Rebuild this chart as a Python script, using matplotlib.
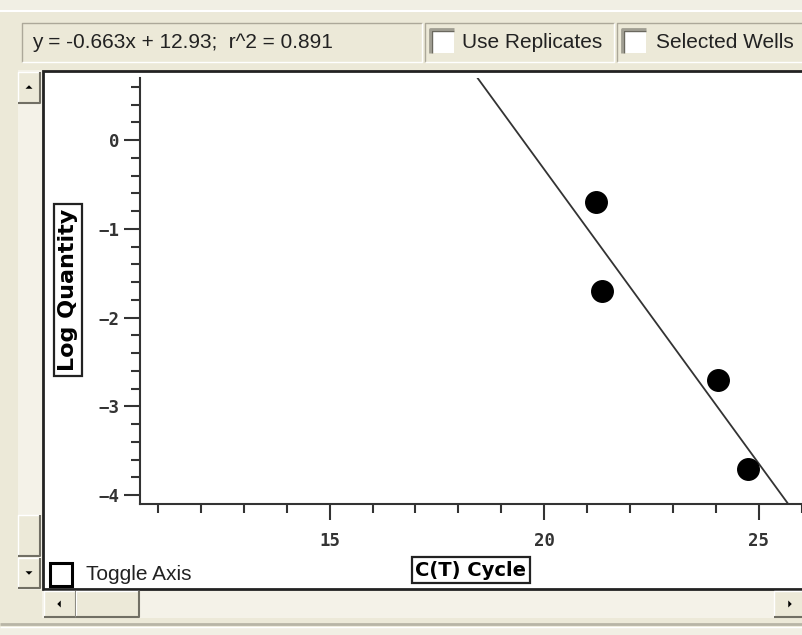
import matplotlib.pyplot as plt
from matplotlib.patches import Rectangle, Polygon
from matplotlib import font_manager
from matplotlib.ticker import MultipleLocator
import numpy as np

# standard curve points
ct_cycle = [21.2, 21.35, 24.05, 24.75]
log_quantity = [-0.7, -1.7, -2.7, -3.7]

# regression shown in the header
slope = -0.663
intercept = 12.93
r_squared = 0.891

x_ticks = [15, 20, 25]
y_ticks = [0, -1, -2, -3, -4]
x_range = (10.58, 26.03)
y_range = (-4.10, 0.70)

W, H = 803, 635
BG = '#ECE9D8'
DARK = '#ACA899'
DARKER = '#716F64'

names = {f.name for f in font_manager.fontManager.ttflist}
ui_font = 'Liberation Sans Narrow' if 'Liberation Sans Narrow' in names else 'Liberation Sans'

fig = plt.figure(figsize=(W / 100, H / 100), dpi=100, facecolor=BG)
ui = fig.add_axes([0, 0, 1, 1], zorder=0)
ui.set_xlim(0, W)
ui.set_ylim(H, 0)
ui.axis('off')


def line(x, y, c, lw=1.0, z=2):
    ui.plot(x, y, color=c, lw=lw, solid_capstyle='butt', zorder=z)


def sunken(x0, y0, x1, y1, fc=BG):
    ui.add_patch(Rectangle((x0, y0), x1 - x0, y1 - y0, fc=fc, ec='none', zorder=1))
    line([x0, x0, x1], [y1, y0, y0], DARK)
    line([x0, x1, x1], [y1, y1, y0], 'white')


def raised(x0, y0, x1, y1, fc=BG):
    ui.add_patch(Rectangle((x0, y0), x1 - x0, y1 - y0, fc=fc, ec='none', zorder=3))
    line([x0, x0, x1], [y1, y0, y0], 'white', z=4)
    line([x0, x1, x1], [y1, y1, y0], DARKER, lw=1.5, z=4)


def arrow(cx, cy, d, s=3.5):
    pts = {'up': [(cx - s, cy + s / 2), (cx + s, cy + s / 2), (cx, cy - s / 2)],
           'down': [(cx - s, cy - s / 2), (cx + s, cy - s / 2), (cx, cy + s / 2)],
           'left': [(cx + s / 2, cy - s), (cx + s / 2, cy + s), (cx - s / 2, cy)],
           'right': [(cx - s / 2, cy - s), (cx - s / 2, cy + s), (cx + s / 2, cy)]}[d]
    ui.add_patch(Polygon(pts, closed=True, fc='black', ec='none', zorder=5))


def checkbox(x0, y0, size=24):
    ui.add_patch(Rectangle((x0, y0), size, size, fc='white', ec='none', zorder=2))
    line([x0, x0, x0 + size], [y0 + size, y0, y0], '#A09E92', lw=2)
    line([x0 + 2, x0 + 2, x0 + size], [y0 + size, y0 + 2, y0 + 2], '#6A685E', lw=1)


# window top strip
ui.add_patch(Rectangle((0, 0), W, 10, fc='#F1EFE4', ec='none', zorder=1))
line([0, W], [11, 11], 'white', lw=1.5)

# header: equation box and two option checkboxes
sunken(22, 23, 422, 62)
ui.text(32, 43, f'y = {slope}x + {intercept};  r^2 = {r_squared}', fontsize=15,
        family=ui_font, color='#222222', va='center', ha='left', zorder=6)
sunken(425, 23, 614, 62)
checkbox(430, 29)
ui.text(462, 43, 'Use Replicates', fontsize=15, family=ui_font, color='#222222',
        va='center', ha='left', zorder=6)
sunken(617, 23, 810, 62)
checkbox(622, 29)
ui.text(656, 43, 'Selected Wells', fontsize=15, family=ui_font, color='#222222',
        va='center', ha='left', zorder=6)

# vertical scrollbar
ui.add_patch(Rectangle((18, 70), 24, 520, fc='#F4F2E8', ec='none', zorder=1))
raised(18, 72, 40, 103)
arrow(29, 87, 'up')
raised(18, 515, 40, 556)
raised(18, 558, 40, 588)
arrow(29, 573, 'down')

# horizontal scrollbar
ui.add_patch(Rectangle((42, 590), W, 28, fc='#F4F2E8', ec='none', zorder=1))
raised(44, 591, 76, 617)
arrow(59, 604, 'left')
raised(76, 591, 139, 617)
raised(774, 591, 812, 617)
arrow(790, 604, 'right')
line([0, W], [624, 624], '#B8B5A6', lw=2)
line([0, W], [627, 627], 'white', lw=1)
ui.add_patch(Rectangle((0, 628), W, 7, fc='#F1EFE4', ec='none', zorder=1))

# plot panel
ui.add_patch(Rectangle((43, 71), W, 518, fc='white', ec='#222222', lw=2, zorder=2))

# toggle axis box
ui.add_patch(Rectangle((50, 563), 22, 23, fc='white', ec='black', lw=2.2, zorder=6))
ui.text(86, 575, 'Toggle Axis', fontsize=15, family=ui_font, color='#222222',
        va='center', ha='left', zorder=6)

# boxed axis titles
box = dict(boxstyle='square,pad=0.2', fc='white', ec='#222222', lw=1.6)
ui.text(68, 290, 'Log Quantity', rotation=90, fontsize=16, fontweight='bold',
        ha='center', va='center', bbox=box, zorder=6)
ui.text(471, 570, 'C(T) Cycle', fontsize=14, fontweight='bold',
        ha='center', va='center', bbox=box, zorder=6)

# data axes
left, right, top, bottom = 140, W, 78, 504
ax = fig.add_axes([left / W, 1 - bottom / H, (right - left) / W, (bottom - top) / H], zorder=2)
ax.patch.set_alpha(0)
ax.set_xlim(*x_range)
ax.set_ylim(*y_range)
for s in ['top', 'right']:
    ax.spines[s].set_visible(False)
for s in ['left', 'bottom']:
    ax.spines[s].set_linewidth(1.5)
    ax.spines[s].set_color('#333333')

ax.set_xticks(x_ticks)
ax.set_yticks(y_ticks)
ax.xaxis.set_minor_locator(MultipleLocator(1))
ax.yaxis.set_minor_locator(MultipleLocator(0.2))
ax.tick_params(which='major', length=11.5, width=1.5, color='#333333',
               labelsize=12.5, labelcolor='#333333')
ax.tick_params(which='minor', length=6.5, width=1.5, color='#333333')
ax.tick_params(axis='x', which='major', pad=9)
ax.tick_params(axis='y', which='major', pad=3)
for lab in ax.get_xticklabels() + ax.get_yticklabels():
    lab.set_family('DejaVu Sans Mono')
    lab.set_fontweight('bold')

fit_x = np.array(x_range)
ax.plot(fit_x, slope * fit_x + intercept, color='#333333', lw=1.3, zorder=3)
ax.plot(ct_cycle, log_quantity, 'o', color='black', ms=15.5, zorder=4, clip_on=False)

fig.savefig('out.png', dpi=100, facecolor=BG)
